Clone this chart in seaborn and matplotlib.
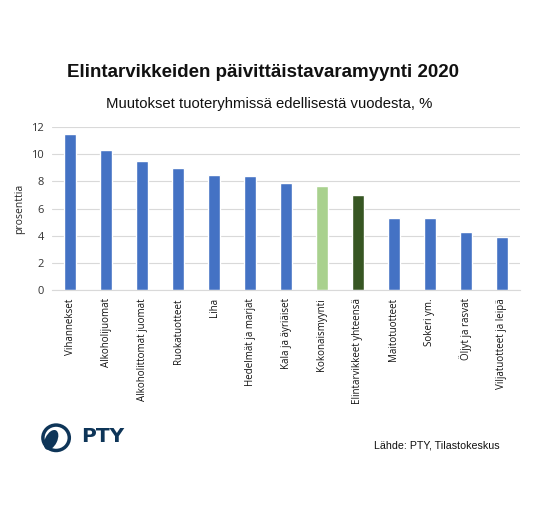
import matplotlib
import matplotlib.pyplot as plt
import pandas as pd
import seaborn as sns
from matplotlib.patches import Circle, Ellipse

matplotlib.use("Agg")

categories = [
    'Vihannekset', 'Alkoholijuomat', 'Alkoholittomat juomat', 'Ruokatuotteet',
    'Liha', 'Hedelmät ja marjat', 'Kala ja äyriäiset', 'Kokonaismyynti',
    'Elintarvikkeet yhteensä', 'Maitotuotteet', 'Sokeri ym.', 'Öljyt ja rasvat',
    'Viljatuotteet ja leipä',
]
values = [11.5, 10.3, 9.5, 9.0, 8.5, 8.4, 7.9, 7.7, 7.0, 5.3, 5.3, 4.3, 3.9]
bar_colors = ['#4472C4'] * 7 + ['#A9D18E', '#375623'] + ['#4472C4'] * 4

df = pd.DataFrame({'ryhma': categories, 'muutos': values})

sns.set_style('white')
fig = plt.figure(figsize=(5.5, 5.3), dpi=100)
ax = fig.add_axes([0.095, 0.453, 0.85, 0.307])

sns.barplot(data=df, x='ryhma', y='muutos', hue='ryhma', palette=bar_colors,
            legend=False, width=0.33, saturation=1, ax=ax)

ax.set_ylim(0, 12)
ax.set_yticks(range(0, 13, 2))
ax.yaxis.grid(True, color='#D9D9D9', linewidth=0.8)
ax.set_axisbelow(True)
for side in ['top', 'right', 'left']:
    ax.spines[side].set_visible(False)
ax.spines['bottom'].set_color('#D9D9D9')
ax.tick_params(axis='both', length=0, pad=6)
ax.set_xlabel('')
ax.set_ylabel('prosenttia', fontsize=7.5, family='Open Sans', labelpad=4)
for lbl in ax.get_yticklabels():
    lbl.set_fontsize(8)
    lbl.set_family('Open Sans')
    lbl.set_color('#333333')
ax.set_xticks(range(len(categories)))
ax.set_xticklabels(categories, rotation=90, fontsize=7, family='Open Sans',
                   color='#111111', va='top')

fig.text(0.478, 0.864, 'Elintarvikkeiden päivittäistavaramyynti 2020',
         ha='center', va='center', fontsize=13.5, fontweight='bold',
         family='Liberation Sans', color='#111111')
fig.text(0.489, 0.804, 'Muutokset tuoteryhmissä edellisestä vuodesta, %',
         ha='center', va='center', fontsize=10.7, family='Liberation Sans',
         color='#111111')
fig.text(0.680, 0.160, 'Lähde: PTY, Tilastokeskus', ha='left', va='center',
         fontsize=7.7, family='Liberation Sans', color='#111111')

# logo
navy = '#0E3558'
fig.patches.append(Circle((0.102, 0.174), 0.024, transform=fig.transFigure,
                          fill=False, edgecolor=navy, linewidth=2.5))
fig.patches.append(Ellipse((0.093, 0.170), 0.022, 0.040, angle=-25,
                           transform=fig.transFigure, facecolor=navy,
                           edgecolor='none'))
fig.text(0.148, 0.176, 'PTY', ha='left', va='center', fontsize=14.5,
         fontweight='bold', family='DejaVu Sans', color=navy)

fig.savefig('out.png', dpi=100, facecolor='white')
